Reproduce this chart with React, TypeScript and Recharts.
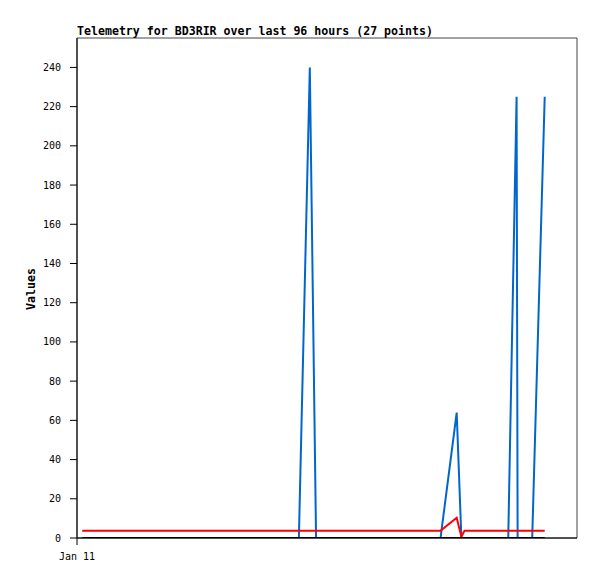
import React from 'react';
import { LineChart, Line, XAxis, YAxis, ReferenceArea } from 'recharts';

// hours since Jan 11 00:00
const hours = [1, 6, 11, 16, 21, 26, 31, 36, 40, 42.6, 44.7, 45.9, 50, 55, 60, 65, 69.8, 72.9, 73.8, 74.4, 79, 82.8, 84.4, 84.6, 86, 87.4, 89.8];
const telemetryValues = [0, 0, 0, 0, 0, 0, 0, 0, 0, 0, 240, 0, 0, 0, 0, 0, 0, 64, 0, 0, 0, 0, 225, 0, 0, 0, 225];
const redValues = [3.7, 3.7, 3.7, 3.7, 3.7, 3.7, 3.7, 3.7, 3.7, 3.7, 3.7, 3.7, 3.7, 3.7, 3.7, 3.7, 3.7, 10.3, 0.7, 3.7, 3.7, 3.7, 3.7, 3.7, 3.7, 3.7, 3.7];
const baseValues = [0, 0, 0, 0, 0, 0, 0, 0, 0, 0, 0, 0, 0, 0, 0, 0, 0, 0, 0, 0, 0, 0, 0, 0, 0, 0, 0];
const yTicks = [0, 20, 40, 60, 80, 100, 120, 140, 160, 180, 200, 220, 240];
const xTicks = [0];
const xTickLabels = ['Jan 11'];
const titleText = 'Telemetry for BD3RIR over last 96 hours (27 points)';
const yLabel = 'Values';

const data = hours.map((h, i) => ({
  h,
  blue: telemetryValues[i],
  red: redValues[i],
  base: baseValues[i],
}));

const mono = '"DejaVu Sans Mono", "Liberation Mono", monospace';

export default function App() {
  return (
    <div style={{ position: 'relative', width: 597, height: 579 }}>
      <style>{`body{margin:0;background:#fff}`}</style>
      <LineChart width={597} height={579} data={data} margin={{ top: 38, right: 20, left: 0, bottom: 11 }}>
        <ReferenceArea x1={0} x2={96} y1={0} y2={255} fill="none" stroke="#444" strokeWidth={1} ifOverflow="visible" />
        <XAxis
          dataKey="h"
          type="number"
          domain={[0, 96]}
          ticks={xTicks}
          tickFormatter={(v: number) => xTickLabels[xTicks.indexOf(v)] ?? ''}
          height={30}
          tickSize={7}
          tickMargin={8}
          stroke="#000"
          tick={{ fill: '#000', fontSize: 10, fontFamily: mono }}
          allowDataOverflow
        />
        <YAxis
          type="number"
          domain={[0, 255]}
          ticks={yTicks}
          width={77}
          tickSize={7}
          tickMargin={9}
          stroke="#000"
          tick={{ fill: '#000', fontSize: 10, fontFamily: mono }}
          allowDataOverflow
        />
        <Line type="linear" dataKey="blue" stroke="#0066cc" strokeWidth={2} dot={false} isAnimationActive={false} />
        <Line type="linear" dataKey="red" stroke="#ff0000" strokeWidth={2} dot={false} isAnimationActive={false} />
        <Line type="linear" dataKey="base" stroke="#000000" strokeWidth={2} dot={false} isAnimationActive={false} />
      </LineChart>
      <svg width={597} height={579} style={{ position: 'absolute', left: 0, top: 0, pointerEvents: 'none' }}>
        <text x={77} y={35} fontFamily={mono} fontWeight="bold" fontSize={11.6} fill="#000">{titleText}</text>
        <text x={34.5} y={289} transform="rotate(-90 34.5 289)" textAnchor="middle" fontFamily={mono} fontWeight="bold" fontSize={11.6} fill="#000">{yLabel}</text>
      </svg>
    </div>
  );
}
